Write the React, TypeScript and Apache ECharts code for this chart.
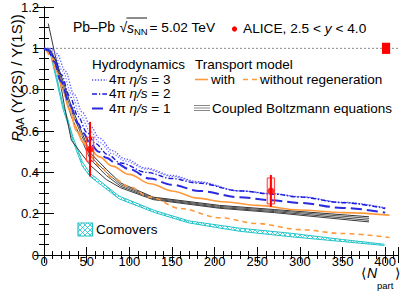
import React, { useEffect, useRef } from "react";
import * as echarts from "echarts";

// ---------- data ----------
const xTicks = [0, 50, 100, 150, 200, 250, 300, 350, 400];
const yTicks = [0, 0.2, 0.4, 0.6, 0.8, 1, 1.2];

// Hydrodynamics, 4pi eta/s = 3 (two dotted curves)
const hydro3a = [[0, 1], [8, 1], [15, 0.975], [25, 0.89], [35, 0.78], [45, 0.69], [55, 0.62], [65, 0.565], [80, 0.505], [95, 0.465], [120, 0.42], [150, 0.385], [180, 0.355], [230, 0.31], [270, 0.296], [300, 0.282], [350, 0.255], [400, 0.228]];
const hydro3b = [[0, 1], [6, 1], [12, 0.975], [22, 0.89], [32, 0.78], [42, 0.68], [54, 0.6], [65, 0.545], [80, 0.49], [95, 0.455], [120, 0.415], [150, 0.38], [180, 0.352], [230, 0.31], [270, 0.296], [300, 0.282], [350, 0.255], [400, 0.228]];
// 4pi eta/s = 2 (dash-dot)
const hydro2 = [[0, 1], [5, 0.995], [12, 0.955], [20, 0.875], [30, 0.77], [40, 0.67], [50, 0.595], [60, 0.54], [75, 0.485], [90, 0.445], [120, 0.4], [150, 0.37], [180, 0.348], [230, 0.31], [270, 0.294], [300, 0.28], [350, 0.253], [400, 0.225]];
// 4pi eta/s = 1 (long dash)
const hydro1 = [[0, 1], [5, 0.99], [12, 0.935], [20, 0.84], [30, 0.73], [40, 0.635], [46, 0.59], [54, 0.54], [64, 0.5], [73, 0.47], [85, 0.443], [100, 0.415], [124, 0.37], [150, 0.34], [182, 0.31], [229, 0.28], [266, 0.265], [300, 0.252], [350, 0.228], [400, 0.205]];
// Transport model
const transportWith = [[3, 0.99], [7, 0.975], [15, 0.885], [22, 0.8], [30, 0.7], [38, 0.6], [46, 0.545], [54, 0.51], [65, 0.475], [80, 0.43], [100, 0.39], [125, 0.345], [150, 0.31], [180, 0.275], [210, 0.258], [250, 0.24], [300, 0.218], [350, 0.205], [405, 0.193]];
const transportWithout = [[3, 0.99], [10, 0.95], [20, 0.83], [30, 0.71], [40, 0.6], [54, 0.48], [65, 0.43], [80, 0.375], [100, 0.33], [124, 0.28], [160, 0.225], [206, 0.18], [250, 0.152], [300, 0.123], [350, 0.104], [405, 0.085]];
// Coupled Boltzmann equations
const boltz1 = [[5, 1.12], [15, 0.93], [24, 0.72], [32, 0.556], [54, 0.435], [73, 0.365], [90, 0.325], [128, 0.268], [206, 0.226], [270, 0.205], [381, 0.16]];
const boltz2 = [[2, 1.0], [8, 0.98], [15, 0.9], [24, 0.78], [32, 0.67], [54, 0.465], [73, 0.385], [90, 0.332], [128, 0.272], [206, 0.23], [270, 0.21], [381, 0.168]];
const boltz3 = [[2, 1.0], [8, 0.985], [15, 0.92], [24, 0.8], [32, 0.7], [54, 0.48], [73, 0.4], [90, 0.34], [128, 0.276], [206, 0.235], [270, 0.215], [381, 0.177]];
const boltz4 = [[2, 1.0], [8, 0.99], [15, 0.93], [24, 0.82], [32, 0.72], [54, 0.495], [73, 0.415], [90, 0.348], [128, 0.28], [206, 0.24], [270, 0.22], [381, 0.185]];
// Comovers band
const comoversUpper = [[2, 1.0], [8, 0.97], [15, 0.86], [22, 0.73], [28, 0.655], [34, 0.57], [45, 0.45], [54, 0.395], [65, 0.36], [88, 0.285], [130, 0.215], [170, 0.165], [229, 0.13], [290, 0.105], [350, 0.075], [399, 0.052]];
const comoversLower = [[2, 1.0], [8, 0.965], [15, 0.84], [22, 0.71], [28, 0.635], [34, 0.55], [45, 0.43], [54, 0.38], [65, 0.345], [88, 0.272], [130, 0.205], [170, 0.155], [229, 0.115], [290, 0.088], [350, 0.065], [399, 0.046]];
// ALICE data
const aliceNpart = [54, 266];
const aliceRaa = [0.512, 0.31];
const aliceStat = [0.132, 0.077];
const aliceSyst = [0.058, 0.063];
const globalUnc = [[401, 1, 0.027]];
const unityLine = [[0, 1], [415, 1]];

const FONT = "'Liberation Sans', Arial, Helvetica, sans-serif";

function makeHatch(): HTMLCanvasElement {
  const c = document.createElement("canvas");
  c.width = 5;
  c.height = 5;
  const ctx = c.getContext("2d")!;
  ctx.clearRect(0, 0, 5, 5);
  ctx.strokeStyle = "rgba(0,190,200,0.9)";
  ctx.lineWidth = 0.8;
  ctx.beginPath();
  ctx.moveTo(0, 0);
  ctx.lineTo(5, 5);
  ctx.moveTo(5, 0);
  ctx.lineTo(0, 5);
  ctx.stroke();
  return c;
}

const txt = (x: number, y: number, text: string, size: number, extra: any = {}) => ({
  type: "text",
  x,
  y,
  style: {
    text,
    fontSize: size,
    fontFamily: FONT,
    fill: "#000",
    verticalAlign: "middle",
    textVerticalAlign: "middle",
    ...extra,
  },
});

export default function App() {
  const ref = useRef<HTMLDivElement>(null);
  useEffect(() => {
    const chart = echarts.init(ref.current!, null, { renderer: "svg" });
    const hatch = { image: makeHatch(), repeat: "repeat" };
    const cyan = "#22c4c8";
    const orange = "#ff9a3c";
    const line = (data: number[][], color: string, width: number, type: any, smooth: boolean, z = 3) => ({
      type: "line",
      data,
      symbol: "none",
      showSymbol: false,
      smooth: smooth ? 0.35 : false,
      smoothMonotone: "x",
      lineStyle: { color, width, type },
      silent: true,
      clip: true,
      z,
    });
    const axisCommon = {
      type: "value",
      axisLine: { show: true, lineStyle: { color: "#000", width: 1 } },
      splitLine: { show: false },
    };
    const option: any = {
      animation: false,
      grid: { left: 44, right: 9, top: 7, bottom: 39, containLabel: false },
      xAxis: [
        {
          ...axisCommon,
          position: "bottom",
          min: 0,
          max: 415,
          interval: 50,
          axisTick: { show: true, inside: true, length: 8, lineStyle: { color: "#000" } },
          minorTick: { show: true, splitNumber: 5, length: 4, lineStyle: { color: "#000" } },
          axisLabel: {
            show: true,
            margin: 0,
            fontSize: 13,
            lineHeight: 13,
            fontFamily: FONT,
            color: "#000",
            showMinLabel: true,
            showMaxLabel: false,
            formatter: (v: number) => (xTicks.indexOf(v) >= 0 ? String(v) : ""),
          },
        },
        {
          ...axisCommon,
          position: "top",
          min: 0,
          max: 415,
          interval: 50,
          axisTick: { show: true, inside: true, length: 8, lineStyle: { color: "#000" } },
          minorTick: { show: true, splitNumber: 5, length: 4, lineStyle: { color: "#000" } },
          axisLabel: { show: false },
        },
      ],
      yAxis: [
        {
          ...axisCommon,
          position: "left",
          min: 0,
          max: 1.2,
          interval: 0.2,
          axisTick: { show: true, inside: true, length: 10, lineStyle: { color: "#000" } },
          minorTick: { show: true, splitNumber: 4, length: 5, lineStyle: { color: "#000" } },
          axisLabel: {
            show: true,
            margin: 5,
            fontSize: 13,
            fontFamily: FONT,
            color: "#000",
            showMinLabel: true,
            showMaxLabel: true,
            formatter: (v: number) => {
              const t = yTicks.find((k) => Math.abs(k - v) < 1e-6);
              return t === undefined ? "" : String(Math.round(t * 10) / 10);
            },
          },
        },
        {
          ...axisCommon,
          position: "right",
          min: 0,
          max: 1.2,
          interval: 0.2,
          axisTick: { show: true, inside: true, length: 10, lineStyle: { color: "#000" } },
          minorTick: { show: true, splitNumber: 4, length: 5, lineStyle: { color: "#000" } },
          axisLabel: { show: false },
        },
      ],
      series: [
        line(unityLine, "#8a8a8a", 1, [2, 2], false, 1),
        {
          type: "custom",
          coordinateSystem: "cartesian2d",
          data: [[0, 0]],
          silent: true,
          clip: true,
          z: 2,
          renderItem: (_p: any, api: any) => {
            const pts = comoversUpper
              .map((d) => api.coord(d))
              .concat(comoversLower.slice().reverse().map((d) => api.coord(d)));
            return { type: "polygon", shape: { points: pts }, style: { fill: hatch as any, stroke: "none" } };
          },
        },
        line(comoversUpper, cyan, 1, "solid", false, 3),
        line(comoversLower, cyan, 1, "solid", false, 3),
        line(boltz1, "#3a3a3a", 1, "solid", false),
        line(boltz2, "#444", 1, "solid", false),
        line(boltz3, "#555", 1, "solid", false),
        line(boltz4, "#333", 1, "solid", false),
        line(transportWithout, orange, 1.6, [5, 4], true),
        line(transportWith, orange, 1.6, "solid", true),
        line(hydro3a, "#5a5aff", 1.3, [1.3, 1.6], true),
        line(hydro3b, "#6f6fff", 1.1, [1.3, 1.6], true),
        line(hydro2, "#1c1cd6", 1.4, [5, 2, 1.3, 2], true),
        line(hydro1, "#2a2ae0", 2, [11, 5], true),
        {
          type: "custom",
          coordinateSystem: "cartesian2d",
          data: aliceNpart.map((x, i) => [x, aliceRaa[i], aliceSyst[i]]),
          silent: true,
          z: 6,
          renderItem: (_p: any, api: any) => {
            const x = api.value(0), y = api.value(1), s = api.value(2);
            const a = api.coord([x - 4.3, y + s]);
            const b = api.coord([x + 4.3, y - s]);
            return {
              type: "rect",
              shape: { x: a[0], y: a[1], width: b[0] - a[0], height: b[1] - a[1] },
              style: { fill: "rgba(255,80,80,0.12)", stroke: "#ff3b3b", lineWidth: 1 },
            };
          },
        },
        {
          type: "custom",
          coordinateSystem: "cartesian2d",
          data: aliceNpart.map((x, i) => [x, aliceRaa[i], aliceStat[i]]),
          silent: true,
          z: 7,
          renderItem: (_p: any, api: any) => {
            const x = api.value(0), y = api.value(1), s = api.value(2);
            const a = api.coord([x, y + s]);
            const b = api.coord([x, y - s]);
            return {
              type: "line",
              shape: { x1: a[0], y1: a[1], x2: b[0], y2: b[1] },
              style: { stroke: "#ff0000", lineWidth: 2 },
            };
          },
        },
        {
          type: "scatter",
          data: aliceNpart.map((x, i) => [x, aliceRaa[i]]),
          symbol: "circle",
          symbolSize: 7,
          itemStyle: { color: "#ff0000" },
          silent: true,
          z: 8,
        },
        {
          type: "custom",
          coordinateSystem: "cartesian2d",
          data: globalUnc,
          silent: true,
          clip: false,
          z: 8,
          renderItem: (_p: any, api: any) => {
            const x = api.value(0), y = api.value(1), s = api.value(2);
            const a = api.coord([x - 4.8, y + s]);
            const b = api.coord([x + 4.8, y - s]);
            return {
              type: "rect",
              shape: { x: a[0], y: a[1], width: b[0] - a[0], height: b[1] - a[1] },
              style: { fill: "#ff0000", stroke: "none" },
            };
          },
        },
      ],
      graphic: [
        // y-axis title
        {
          type: "text",
          x: 16.5,
          y: 78,
          rotation: Math.PI / 2,
          style: {
            text: "{i|R}{sub|AA} (Υ(2S) / Υ(1S))",
            fontSize: 15,
            fontFamily: FONT,
            fill: "#000",
            align: "center",
            verticalAlign: "middle",
            textAlign: "center",
            textVerticalAlign: "middle",
            rich: {
              i: { fontStyle: "italic", fontSize: 15, fontFamily: FONT },
              sub: { fontSize: 10, fontFamily: FONT, padding: [7, 0, 0, 0] },
            },
          },
        },
        // x-axis title
        txt(361, 272.5, "⟨", 14),
        txt(367, 272.5, "N", 14, { fontStyle: "italic" }),
        txt(377, 285.5, "part", 9.5),
        txt(394.5, 272.5, "⟩", 14),
        // Pb-Pb header
        txt(73, 27, "Pb–Pb", 14),
        txt(119.5, 27, "√", 14),
        txt(127, 27.5, "s", 14, { fontStyle: "italic" }),
        txt(134, 31, "NN", 9.5),
        txt(149.5, 27, "= 5.02 TeV", 13.7),
        { type: "line", shape: { x1: 126.5, y1: 18, x2: 147, y2: 18 }, style: { stroke: "#000", lineWidth: 0.9 } },
        // ALICE
        { type: "circle", shape: { cx: 234.5, cy: 29, r: 2.6 }, style: { fill: "#ff0000" } },
        txt(243, 28, "ALICE, 2.5 < {i|y} < 4.0", 13.7, {
          rich: { i: { fontStyle: "italic", fontSize: 13.7, fontFamily: FONT } },
        }),
        // Hydro legend
        txt(92, 64, "Hydrodynamics", 13.5),
        txt(195, 64, "Transport model", 13.5),
        { type: "line", shape: { x1: 92, y1: 80, x2: 107, y2: 80 }, style: { stroke: "#5a5aff", lineWidth: 1.3, lineDash: [1.3, 1.6] } },
        { type: "line", shape: { x1: 92, y1: 94, x2: 107, y2: 94 }, style: { stroke: "#1c1cd6", lineWidth: 1.4, lineDash: [5, 2, 1.3, 2] } },
        { type: "line", shape: { x1: 92, y1: 108.5, x2: 107, y2: 108.5 }, style: { stroke: "#2a2ae0", lineWidth: 2, lineDash: [11, 5] } },
        ...[
          ["3", 79.5],
          ["2", 93.5],
          ["1", 108],
        ].map(([n, y]) =>
          txt(109, y as number, "4π {i|η/s} = " + n, 13.5, {
            rich: { i: { fontStyle: "italic", fontSize: 13.5, fontFamily: FONT } },
          })
        ),
        { type: "line", shape: { x1: 195, y1: 79.5, x2: 208, y2: 79.5 }, style: { stroke: orange, lineWidth: 1.6 } },
        txt(211, 79.5, "with", 13.5),
        { type: "line", shape: { x1: 243, y1: 79.5, x2: 257, y2: 79.5 }, style: { stroke: orange, lineWidth: 1.6, lineDash: [5, 4] } },
        txt(260, 79.5, "without regeneration", 13.5),
        { type: "line", shape: { x1: 194, y1: 105.5, x2: 210, y2: 105.5 }, style: { stroke: "#888", lineWidth: 1 } },
        { type: "line", shape: { x1: 194, y1: 108, x2: 210, y2: 108 }, style: { stroke: "#888", lineWidth: 1 } },
        { type: "line", shape: { x1: 194, y1: 110.5, x2: 210, y2: 110.5 }, style: { stroke: "#888", lineWidth: 1 } },
        txt(212, 108, "Coupled Boltzmann equations", 13.5),
        // Comovers legend
        { type: "rect", shape: { x: 78, y: 223, width: 14.5, height: 13 }, style: { fill: hatch as any, stroke: cyan, lineWidth: 1.2 } },
        txt(96, 229.5, "Comovers", 13.5),
      ],
    };
    chart.setOption(option);
    return () => chart.dispose();
  }, []);
  return <div ref={ref} style={{ position: "absolute", left: 0, top: 0, width: 407, height: 294 }} />;
}
